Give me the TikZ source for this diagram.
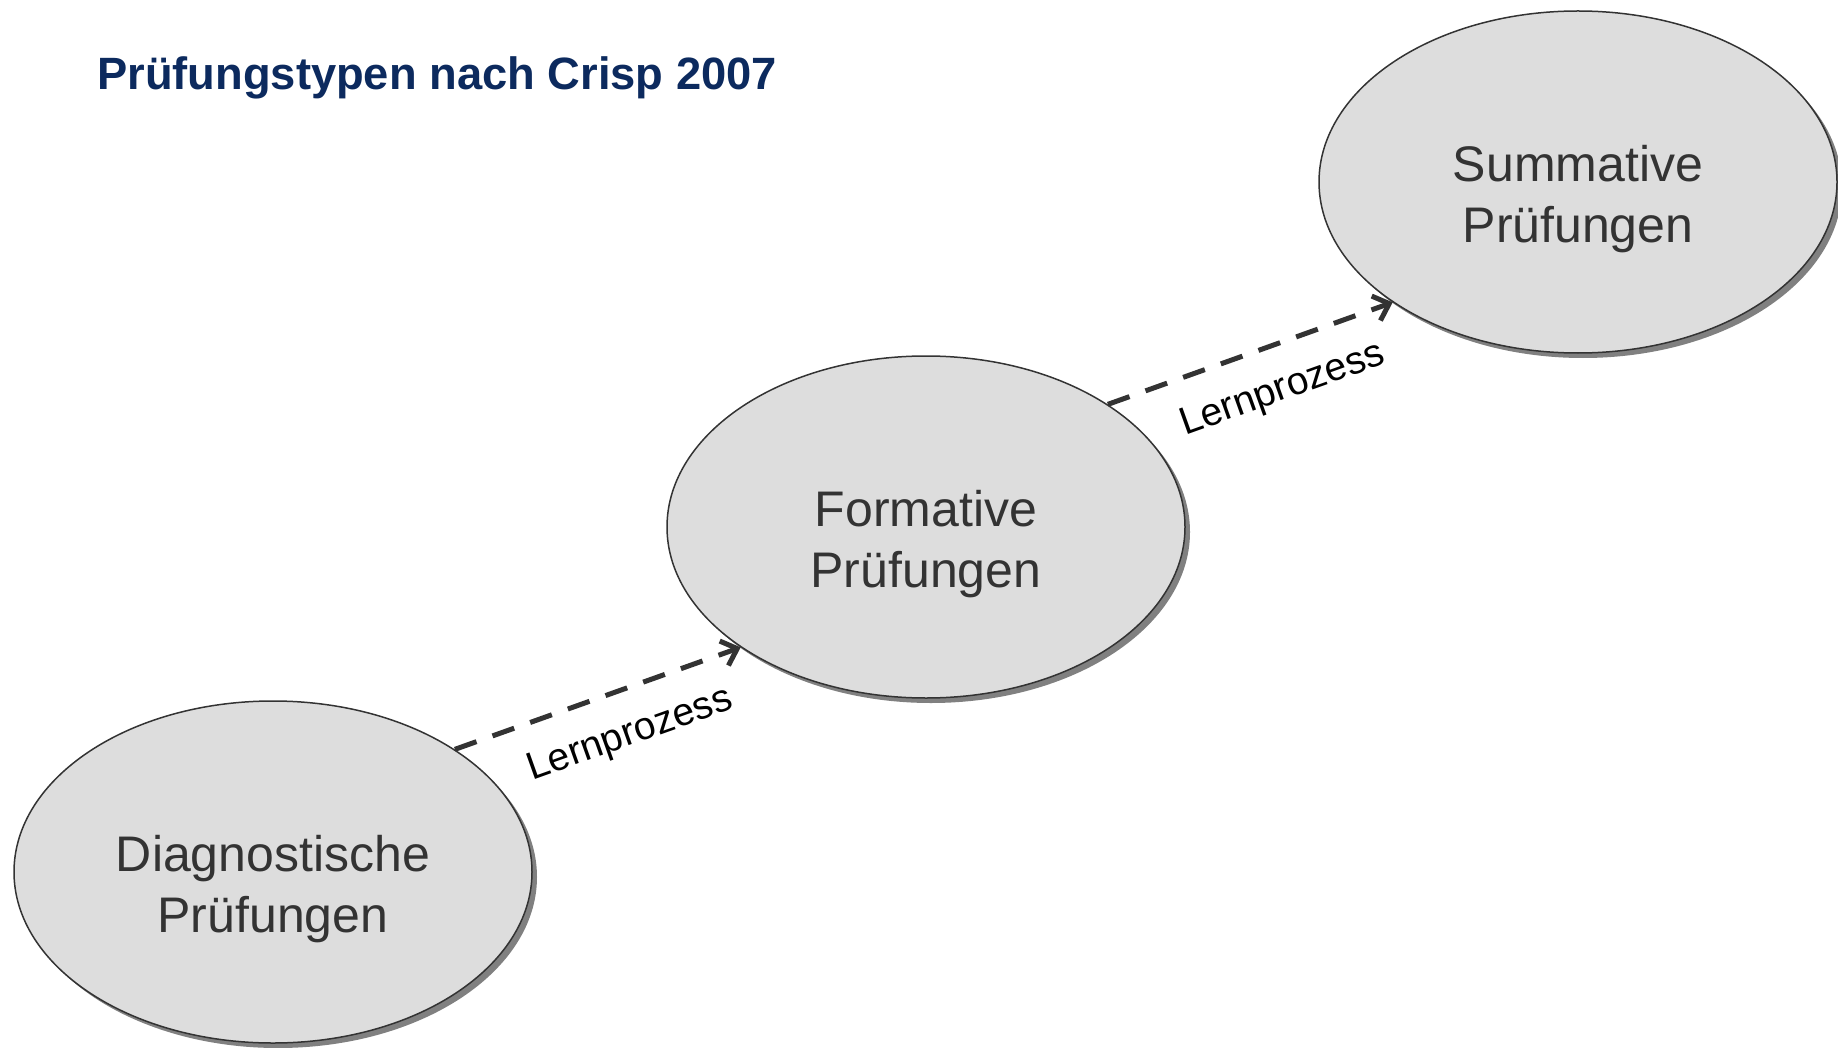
\documentclass[tikz,border=0pt]{standalone}
\usepackage{fontspec}
\setmainfont{Liberation Sans}
\usetikzlibrary{shapes.geometric,shadows,arrows.meta}
\definecolor{titleblue}{RGB}{12,42,94}
\definecolor{ink}{RGB}{51,51,51}
\definecolor{ellfill}{RGB}{221,221,221}
\begin{document}
\begin{tikzpicture}[x=1pt,y=-1pt,
  ell/.style={ellipse, draw=ink, line width=1.5pt, fill=ellfill,
    minimum width=518pt, minimum height=342pt, inner sep=0pt,
    drop shadow={shadow xshift=5pt, shadow yshift=-5pt, fill=black!50, opacity=1}},
  elltext/.style={text=ink, font=\fontsize{50}{61}\selectfont, align=center, inner sep=0pt},
  flow/.style={draw=ink, line width=5pt, dash pattern=on 23pt off 17pt,
    -{Straight Barb[length=14pt,width=26pt]}},
  lbl/.style={font=\fontsize{39}{46}\selectfont, text=black, sloped, inner sep=0pt,
    below=26pt, pos=0.56},
  titlestyle/.style={font=\fontsize{45.3}{54}\selectfont\bfseries, text=titleblue,
    inner sep=0pt, anchor=base west}]
\useasboundingbox (0,0) rectangle (1838,1048);
\node[titlestyle] (title) at (97,90) {Prüfungstypen nach Crisp 2007};

\node[ell] (d) at (273,872) {};
\node[ell] (f) at (926,527) {};
\node[ell] (s) at (1578,182) {};

\node[elltext] (dt) at (273,889) {Diagnostische\\Prüfungen};
\node[elltext] (ft) at (926,544) {Formative\\Prüfungen};
\node[elltext] (st) at (1578,199) {Summative\\Prüfungen};

\draw[flow] (d.34) -- node[lbl] (l1) {Lernprozess} (f.213);
\draw[flow] (f.34) -- node[lbl] (l2) {Lernprozess} (s.213);
\end{tikzpicture}
\end{document}
